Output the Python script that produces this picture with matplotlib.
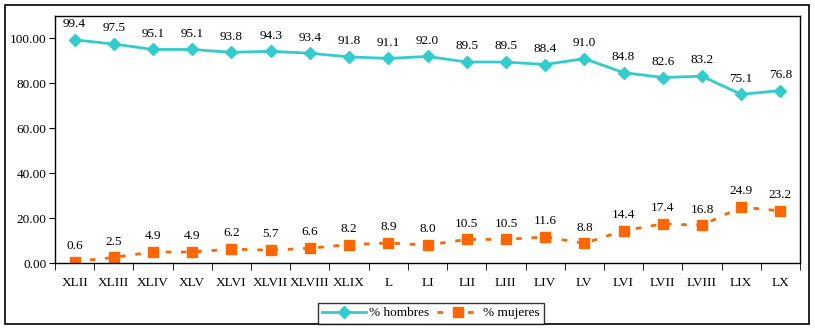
import matplotlib
matplotlib.use("Agg")
import matplotlib.pyplot as plt
from matplotlib.patches import Rectangle
import numpy as np

legislaturas = ["XLII", "XLIII", "XLIV", "XLV", "XLVI", "XLVII", "XLVIII", "XLIX", "L",
                "LI", "LII", "LIII", "LIV", "LV", "LVI", "LVII", "LVIII", "LIX", "LX"]
hombres = [99.4, 97.5, 95.1, 95.1, 93.8, 94.3, 93.4, 91.8, 91.1, 92.0,
           89.5, 89.5, 88.4, 91.0, 84.8, 82.6, 83.2, 75.1, 76.8]
mujeres = [0.6, 2.5, 4.9, 4.9, 6.2, 5.7, 6.6, 8.2, 8.9, 8.0,
           10.5, 10.5, 11.6, 8.8, 14.4, 17.4, 16.8, 24.9, 23.2]

cyan = "#33CCCC"
orange = "#FF6600"
plt.rcParams["font.family"] = ["Liberation Serif", "DejaVu Serif"]
fs = 9.5

W, H = 815, 329
fig = plt.figure(figsize=(W / 100, H / 100), dpi=100)
# marco exterior
fig.patches.append(Rectangle((5 / W, 5 / H), 804 / W, 319 / H, transform=fig.transFigure,
                             fill=False, edgecolor="black", linewidth=1.2))

ax = fig.add_axes([55 / W, 1 - 263 / H, 745 / W, 247 / H])
x = np.arange(len(legislaturas))
ax.plot(x, hombres, color=cyan, linewidth=2, marker="D", markersize=6,
        label="% hombres")
ax.plot(x, mujeres, color=orange, linewidth=2, linestyle=(0, (2, 3.5)), marker="s",
        markersize=7, label="% mujeres")

for serie in (hombres, mujeres):
    for xi, v in zip(x, serie):
        ax.annotate(f"{v:.1f}", (xi, v), xytext=(0, 7), textcoords="offset points",
                    ha="center", va="bottom", fontsize=fs)

ax.set_xlim(-0.5, len(legislaturas) - 0.5)
ax.set_ylim(0, 110)
ax.set_yticks(np.arange(0, 101, 20))
ax.set_yticklabels([f"{t:.2f}" for t in range(0, 101, 20)], fontsize=fs)
ax.set_xticks(x)
ax.set_xticklabels(legislaturas, fontsize=fs)
ax.tick_params(axis="x", length=0, pad=10)
ax.set_xticks(np.arange(-0.5, len(legislaturas), 1), minor=True)
ax.tick_params(axis="x", which="minor", length=5, direction="out")
ax.tick_params(axis="y", length=4, direction="out", pad=2)
for s in ax.spines.values():
    s.set_linewidth(1)

leg = fig.legend(loc="lower center", bbox_to_anchor=(431 / W, 5 / H),
                 ncol=2, frameon=True, fancybox=False, fontsize=fs,
                 handlelength=3.3, borderaxespad=0, columnspacing=0.6,
                 handletextpad=0.2, borderpad=0.35)
leg.get_frame().set_edgecolor("black")
leg.get_frame().set_linewidth(1)

fig.savefig("out.png", dpi=100)
